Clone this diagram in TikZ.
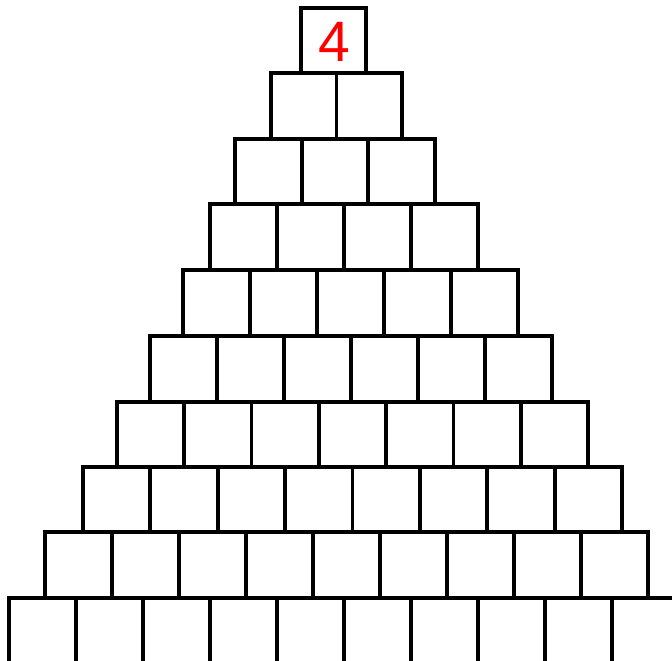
\documentclass[tikz,border=0pt]{standalone}
\usepackage{fontspec}
\setmainfont{Liberation Sans}
\begin{document}
\begin{tikzpicture}[x=1pt,y=-1pt,
  num/.style={text=red,font=\fontsize{57}{57}\selectfont}]
\useasboundingbox (0,0) rectangle (672,661);
\clip (0,0) rectangle (672,661);
% row: index / top / bottom / left / right / count
\foreach \rr/\yt/\yb/\xl/\xr/\nn in {1/8/73/301/366/1, 2/73/139/271/402/2, 3/139/204/235/435/3, 4/204/270/210/478/4, 5/270/336/183/518/5, 6/336/402/150/552/6, 7/402/467/117/588/7, 8/467/532/83/622/8, 9/532/598/45/648/9, 10/598/664/9/679/10}{
  \foreach \ii in {1,...,\nn}{
    \pgfmathsetmacro{\bw}{(\xr-\xl)/\nn}
    \pgfmathsetmacro{\xa}{\xl+(\ii-1)*\bw}
    \pgfmathsetmacro{\xbb}{\xa+\bw}
    \draw[line width=3.8pt] (\xa,\yt) rectangle (\xbb,\yb);
    \coordinate (b-\rr-\ii) at ({(\xa+\xbb)/2},{(\yt+\yb)/2});
  }
}
\node[num] (top) at ([xshift=1pt,yshift=-1pt]b-1-1) {4};
\end{tikzpicture}
\end{document}
